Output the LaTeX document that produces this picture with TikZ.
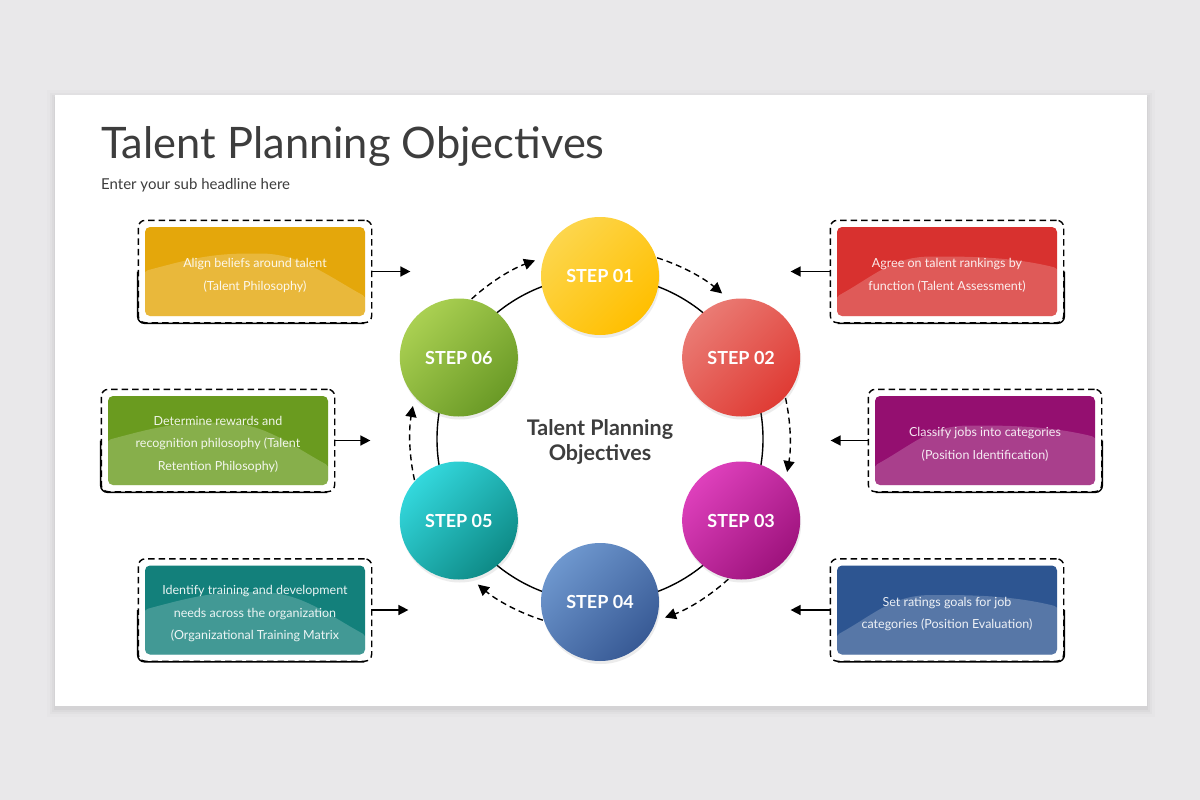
\documentclass[tikz,border=0pt]{standalone}
\usepackage{fontspec}
\setmainfont{Lato}
\usetikzlibrary{arrows.meta,calc,fit,shadows}

\definecolor{slide}{HTML}{E9E8EA}
\definecolor{ink}{HTML}{3D3D3D}
% step balls: light / dark
\definecolor{oneL}{HTML}{FDD64C}\definecolor{oneD}{HTML}{FFBF00}
\definecolor{twoL}{HTML}{EA7B74}\definecolor{twoD}{HTML}{DF3B34}
\definecolor{thrL}{HTML}{DE40BC}\definecolor{thrD}{HTML}{9E137D}
\definecolor{fouL}{HTML}{6E97CE}\definecolor{fouD}{HTML}{385A95}
\definecolor{fivL}{HTML}{33D8DD}\definecolor{fivD}{HTML}{0E8A86}
\definecolor{sixL}{HTML}{AAD052}\definecolor{sixD}{HTML}{6A9A26}
% boxes
\definecolor{philo}{HTML}{E4A70B}
\definecolor{assess}{HTML}{D8312F}
\definecolor{retain}{HTML}{6A9B1F}
\definecolor{ident}{HTML}{940F70}
\definecolor{train}{HTML}{13807B}
\definecolor{evalu}{HTML}{2D5591}
\newcommand\padtop{\rule{0pt}{17pt}}

\begin{document}
\begin{tikzpicture}[x=1pt,y=-1pt]
\tikzset{stepball/.style 2 args = 
		{circle,
		minimum size = 118pt,
		inner sep = 0pt,
		top color = #1, bottom color = #2, shading angle = 45,
	%	ball color = #2,
		text = white,
		font = \fontsize{18}{18}\selectfont\bfseries,
		drop shadow = {shadow xshift=1pt, shadow yshift=-3pt, opacity=.15}},
	objbox/.style = 
		{rectangle,
		rounded corners = 5pt,
		minimum width = 220pt, minimum height = 89pt,
		inner sep = 0pt,
		fill = #1,
		text = white, text opacity = .9,
		align = center,
		font = \fontsize{12.5}{22.5}\selectfont},
	waveL/.style = {path picture = {
		\fill[white, opacity=.2] ([shift={(-112pt,0pt)}]path picture bounding box.center)
			.. controls +(45pt,12pt) and +(-45pt,0pt) .. ([shift={(0pt,18pt)}]path picture bounding box.center)
			.. controls +(45pt,0pt) and +(-40pt,22pt) .. ([shift={(112pt,-26pt)}]path picture bounding box.center)
			-- ([shift={(112pt,-50pt)}]path picture bounding box.center)
			-- ([shift={(-112pt,-50pt)}]path picture bounding box.center) -- cycle;}},
	waveR/.style = {path picture = {
		\fill[white, opacity=.2] ([shift={(-112pt,-26pt)}]path picture bounding box.center)
			.. controls +(40pt,22pt) and +(-45pt,0pt) .. ([shift={(-10pt,15pt)}]path picture bounding box.center)
			.. controls +(45pt,0pt) and +(-40pt,10pt) .. ([shift={(112pt,3pt)}]path picture bounding box.center)
			-- ([shift={(112pt,-50pt)}]path picture bounding box.center)
			-- ([shift={(-112pt,-50pt)}]path picture bounding box.center) -- cycle;}},
	dashframe/.style = 
		{draw, line width = 1.4pt,
		dash pattern = on 6.5pt off 4pt,
		rounded corners = 7pt,
		inner sep = 6.5pt},
	solidedge/.style = {line width = 1.4pt, rounded corners = 7pt},
	pointer/.style = {line width = 1.5pt, -{Triangle[length=10pt,width=10pt]}},
	flow/.style = {line width = 1.4pt, dash pattern = on 6pt off 4pt, -{Triangle[length=11pt,width=11pt]}}}

	\useasboundingbox (0,0) rectangle (1200,800);
	\fill[slide] (0,0) rectangle (1200,800);
	\foreach \s/\o in {8/.012,5/.02,3/.025,1/.03}
		\fill[black, opacity=\o] (55-\s,95-\s+3) rectangle (1147+\s,706+\s+3);
	\fill[white] (55,95) rectangle (1147,706);

	\node[anchor=base west, inner sep=0pt, text=ink, font=\fontsize{43.4}{43.4}\selectfont] (title) at (101,158) {Talent Planning Objectives};
	\node[anchor=base west, inner sep=0pt, text=ink, font=\fontsize{15}{15}\selectfont] (subtitle) at (101,189) {Enter your sub headline here};

	\coordinate (hub) at (600,439);
	\node[text=ink, align=center, font=\fontsize{21.5}{25}\selectfont\bfseries] (core) at (600,442) {Talent Planning\\Objectives};
	\draw[line width=1.4pt] (hub) circle[radius=163pt];

	\foreach \a in {90,30,-30,-90,-150,150}
		\draw[flow] ($(hub)+(\a-17.5:190pt)$) arc[start angle=\a-17.5, end angle=\a-40, radius=190pt];

	\node[stepball={oneL}{oneD}] (Step01) at ($(hub)+(90:163pt)$) {STEP 01};
	\node[stepball={twoL}{twoD}] (Step02) at ($(hub)+(30:163pt)$) {STEP 02};
	\node[stepball={thrL}{thrD}] (Step03) at ($(hub)+(-30:163pt)$) {STEP 03};
	\node[stepball={fouL}{fouD}] (Step04) at ($(hub)+(-90:163pt)$) {STEP 04};
	\node[stepball={fivL}{fivD}] (Step05) at ($(hub)+(-150:163pt)$) {STEP 05};
	\node[stepball={sixL}{sixD}] (Step06) at ($(hub)+(150:163pt)$) {STEP 06};

	\node[objbox=philo, waveL] (Philosophy) at (255,271.5) {\padtop Align beliefs around talent\\(Talent Philosophy)};
	\node[objbox=assess, waveR] (Assessment) at (947,271.5) {\padtop Agree on talent rankings by\\function (Talent Assessment)};
	\node[objbox=retain, waveL] (Retention) at (218,440.5) {\padtop Determine rewards and\\recognition philosophy (Talent\\Retention Philosophy)};
	\node[objbox=ident, waveR] (Identification) at (985,440.5) {\padtop Classify jobs into categories\\(Position Identification)};
	\node[objbox=train, waveL] (Training) at (255,610) {\padtop Identify training and development\\needs across the organization\\(Organizational Training Matrix};
	\node[objbox=evalu, waveR] (Evaluation) at (947,610) {\padtop Set ratings goals for job\\categories (Position Evaluation)};

	\foreach \b in {Philosophy,Retention,Training}{
		\node[dashframe, fit=(\b)] (\b F) {};
		\draw[solidedge] (\b F.west) |- ([xshift=-8pt]\b F.south east);
	}
	\foreach \b in {Assessment,Identification,Evaluation}{
		\node[dashframe, fit=(\b)] (\b F) {};
		\draw[solidedge] (\b F.east) |- ([xshift=8pt]\b F.south west);
	}

	\draw[pointer] (PhilosophyF.east) -- ++(38pt,0);
	\draw[pointer] (RetentionF.east) -- ++(35pt,0);
	\draw[pointer] (TrainingF.east) -- ++(36pt,0);
	\draw[pointer] (AssessmentF.west) -- ++(-39pt,0);
	\draw[pointer] (IdentificationF.west) -- ++(-37pt,0);
	\draw[pointer] (EvaluationF.west) -- ++(-39pt,0);
	%\draw[pointer] (Step01) -- (Step02);
\end{tikzpicture}
\end{document}
